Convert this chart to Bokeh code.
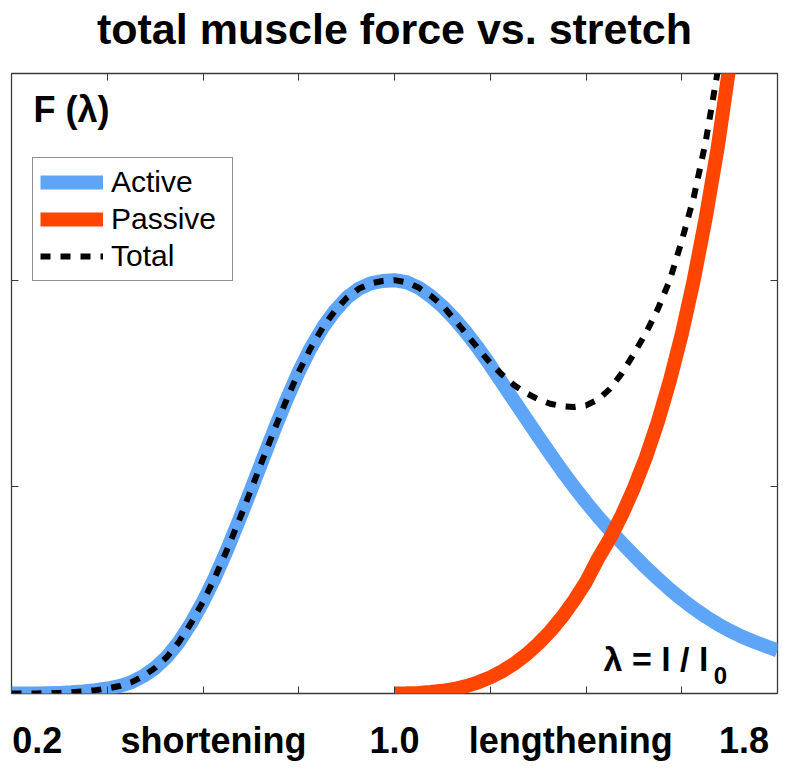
from bokeh.plotting import figure
from bokeh.models import (Label, Legend, LegendItem, LinearAxis, FixedTicker, Range1d)
from bokeh.embed import file_html
from bokeh.resources import INLINE

# ---------------- data ----------------
lam_active = [0.200, 0.225, 0.250, 0.275, 0.300, 0.325, 0.350, 0.375, 0.400, 0.425,
              0.450, 0.475, 0.500, 0.525, 0.550, 0.575, 0.600, 0.625, 0.650, 0.675,
              0.700, 0.725, 0.750, 0.775, 0.800, 0.825, 0.850, 0.875, 0.900, 0.925,
              0.950, 0.975, 1.000, 1.025, 1.050, 1.075, 1.100, 1.125, 1.150, 1.175,
              1.200, 1.225, 1.250, 1.275, 1.300, 1.325, 1.350, 1.375, 1.400, 1.425,
              1.450, 1.475, 1.500, 1.525, 1.550, 1.575, 1.600, 1.625, 1.650, 1.675,
              1.700, 1.725, 1.750, 1.775, 1.800]
active = [0.0, 0.0, 0.0003, 0.0008, 0.0015, 0.0028, 0.005, 0.008, 0.012, 0.018,
          0.027, 0.042, 0.062, 0.089, 0.125, 0.170, 0.222, 0.281, 0.347, 0.418,
          0.492, 0.567, 0.641, 0.712, 0.778, 0.836, 0.885, 0.925, 0.957, 0.979,
          0.992, 0.998, 1.000, 0.995, 0.982, 0.962, 0.937, 0.907, 0.873, 0.835,
          0.794, 0.751, 0.708, 0.665, 0.622, 0.580, 0.539, 0.500, 0.463, 0.428,
          0.395, 0.364, 0.334, 0.305, 0.278, 0.252, 0.228, 0.206, 0.186, 0.168,
          0.152, 0.138, 0.126, 0.115, 0.104]

lam_passive = [1.000, 1.025, 1.050, 1.075, 1.100, 1.125, 1.150, 1.175, 1.200, 1.225,
               1.250, 1.275, 1.300, 1.325, 1.350, 1.375, 1.400, 1.425, 1.450, 1.475,
               1.500, 1.525, 1.550, 1.575, 1.600, 1.625, 1.650, 1.675, 1.700]
passive = [0.0, 0.0004, 0.0015, 0.0035, 0.0065, 0.011, 0.018, 0.027, 0.039, 0.054,
           0.072, 0.094, 0.120, 0.150, 0.185, 0.225, 0.270, 0.326, 0.375, 0.432,
           0.497, 0.571, 0.657, 0.756, 0.869, 1.000, 1.150, 1.320, 1.520]

lam_total = [0.200, 0.225, 0.250, 0.275, 0.300, 0.325, 0.350, 0.375, 0.400, 0.425,
             0.450, 0.475, 0.500, 0.525, 0.550, 0.575, 0.600, 0.625, 0.650, 0.675,
             0.700, 0.725, 0.750, 0.775, 0.800, 0.825, 0.850, 0.875, 0.900, 0.925,
             0.950, 0.975, 1.000, 1.025, 1.050, 1.075, 1.100, 1.125, 1.150, 1.175,
             1.200, 1.225, 1.250, 1.275, 1.300, 1.325, 1.350, 1.375, 1.400, 1.425,
             1.450, 1.475, 1.500, 1.525, 1.550, 1.575, 1.600, 1.625, 1.650, 1.675,
             1.700]
total = [0.0, 0.0, 0.0003, 0.0008, 0.0015, 0.0028, 0.005, 0.008, 0.012, 0.018,
         0.027, 0.042, 0.062, 0.089, 0.125, 0.170, 0.222, 0.281, 0.347, 0.418,
         0.492, 0.567, 0.641, 0.712, 0.778, 0.836, 0.885, 0.925, 0.957, 0.979,
         0.992, 0.998, 1.000, 0.995, 0.982, 0.963, 0.939, 0.905, 0.870, 0.834,
         0.800, 0.771, 0.746, 0.727, 0.712, 0.701, 0.695, 0.693, 0.697, 0.711,
         0.737, 0.775, 0.822, 0.872, 0.930, 1.000, 1.095, 1.200, 1.335, 1.505,
         1.700]

x_ticks = [0.4, 0.6, 0.8, 1.0, 1.2, 1.4, 1.6]
y_ticks = [0.5, 1.0]
bottom_labels = ["0.2", "shortening", "1.0", "lengthening", "1.8"]
title_text = "total muscle force vs. stretch"

# ---------------- figure ----------------
FONT = "Liberation Sans"
p = figure(width=785, height=765, x_range=Range1d(0.2, 1.8), y_range=Range1d(0, 1.5),
           output_backend="svg", toolbar_location=None,
           min_border_left=11, min_border_right=8, min_border_top=73, min_border_bottom=72)
p.grid.visible = False
p.outline_line_color = "#3a3a3a"
p.outline_line_width = 1.3
p.background_fill_color = "white"
p.border_fill_color = "white"

top_axis = LinearAxis()
p.add_layout(top_axis, "above")
p.add_layout(LinearAxis(), "right")
for ax in p.xaxis:
    ax.ticker = FixedTicker(ticks=x_ticks)
for ax in p.yaxis:
    ax.ticker = FixedTicker(ticks=y_ticks)
for ax in p.axis:
    ax.major_tick_in = 7
    ax.major_tick_out = 0
    ax.minor_tick_line_color = None
    ax.axis_line_color = None
    ax.major_tick_line_color = "#3a3a3a"
    ax.major_tick_line_width = 1
    ax.major_label_text_font_size = "0px"
    ax.major_label_text_color = None
    ax.major_label_standoff = 0


def text_axis(ticks, texts, size, standoff):
    ax = LinearAxis(ticker=FixedTicker(ticks=ticks),
                    major_label_overrides={t: s for t, s in zip(ticks, texts)})
    ax.major_tick_line_color = None
    ax.major_tick_in = 0
    ax.major_tick_out = 0
    ax.minor_tick_line_color = None
    ax.axis_line_color = None
    ax.major_label_text_font = FONT
    ax.major_label_text_font_style = "bold"
    ax.major_label_text_font_size = size
    ax.major_label_text_color = "black"
    ax.major_label_standoff = standoff
    return ax


# title (drawn as a single centred label above the frame)
p.add_layout(text_axis([1.0], [title_text], "43px", 21), "above")
# category labels below the axis
p.add_layout(text_axis([0.254, 0.622, 1.0, 1.368, 1.730], bottom_labels, "36px", 26), "below")

BLUE = "#5EA5F7"
ORANGE = "#FF4500"

r_act = p.line(lam_active, active, line_color=BLUE, line_width=14, line_join="round")
r_pas = p.line(lam_passive, passive, line_color=ORANGE, line_width=14, line_join="round")
r_tot = p.line(lam_total, total, line_color="black", line_width=6, line_dash="10 10")

legend = Legend(items=[LegendItem(label="Active", renderers=[r_act]),
                       LegendItem(label="Passive", renderers=[r_pas]),
                       LegendItem(label="Total", renderers=[r_tot])],
                location=(21, 412))
legend.label_text_font = FONT
legend.label_text_font_size = "30px"
legend.label_text_color = "black"
legend.glyph_width = 63
legend.glyph_height = 30
legend.label_standoff = 8
legend.label_width = 114
legend.padding = 7
legend.spacing = 3
legend.border_line_color = "#222222"
legend.border_line_width = 1.5
legend.background_fill_alpha = 1.0
legend.margin = 0
p.add_layout(legend)

# F(lambda)
p.add_layout(Label(x=0.246, y=(693 - 109) / 413.3, text="F (λ)", text_font=FONT,
                   text_font_style="bold", text_font_size="36px", text_align="left",
                   text_baseline="alphabetic", text_color="black"))

# lambda = l / l0
p.add_layout(Label(x=1.4366, y=(693 - 659) / 413.3, text="λ = l / l", text_font=FONT,
                   text_font_style="bold", text_font_size="34px", text_align="left",
                   text_baseline="alphabetic", text_color="black"))
p.add_layout(Label(x=1.667, y=(693 - 675) / 413.3, text="0", text_font=FONT,
                   text_font_style="bold", text_font_size="24px", text_align="left",
                   text_baseline="alphabetic", text_color="black"))

open("out.html", "w").write(file_html(p, INLINE))
